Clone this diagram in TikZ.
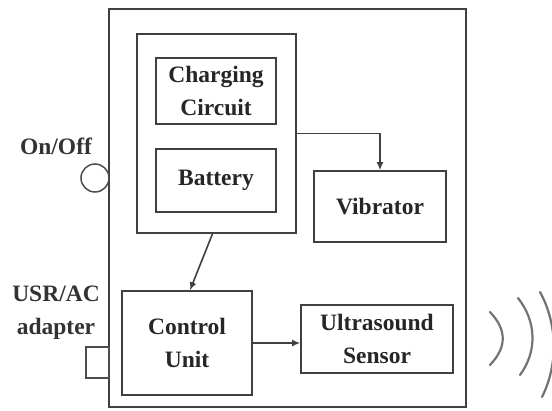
\documentclass[tikz,border=0pt]{standalone}
\usepackage{fontspec}
\setmainfont{Liberation Serif}
\usetikzlibrary{arrows.meta}

\begin{document}
\begin{tikzpicture}[x=1pt, y=-1pt, >={Latex[length=8pt,width=7pt]},
    blk/.style={draw=black!75, line width=1.6pt, inner sep=0pt, align=center,
        font=\bfseries\fontsize{23.5}{33}\selectfont, text=black!85},
    lbl/.style={align=center, font=\bfseries\fontsize{23.5}{33}\selectfont, text=black!80},
    link/.style={->, draw=black!75, line width=1.6pt},
    wave/.style={draw=black!55, line width=2.2pt, line cap=round}]
    \useasboundingbox (0,0) rectangle (552,410);

    \node[blk, minimum width=357pt, minimum height=398pt] (device) at (287.5,208) {};
    \node[blk, minimum width=159pt, minimum height=199pt] (pack) at (216.5,133.5) {};
    \node[blk, minimum width=120pt, minimum height=66pt] (charging) at (216,91) {Charging\\Circuit};
    \node[blk, minimum width=120pt, minimum height=63pt] (battery) at (216,180.5) {Battery};
    \node[blk, minimum width=132pt, minimum height=71pt] (vibrator) at (380,206.5) {Vibrator};
    \node[blk, minimum width=130pt, minimum height=104pt] (control) at (187,343) {Control\\Unit};
    \node[blk, minimum width=152pt, minimum height=68pt] (sensor) at (377,339) {Ultrasound\\Sensor};

    \node[lbl] (onofflabel) at (56,146) {On/Off};
    \node[draw=black!70, line width=1.5pt, circle, minimum size=28pt, inner sep=0pt] (switch) at (95,178) {};
    \node[lbl] (adapterlabel) at (56,313) {USR/AC\\adapter};
    \node[draw=black!70, line width=1.5pt, minimum width=23pt, minimum height=31pt, inner sep=0pt] (port) at (97.5,362.5) {};

    \draw[link] (pack.east) -| (vibrator.north);
    \draw[link] ([xshift=-4pt]pack.south) -- ([xshift=3pt]control.north);
    \draw[link] (control.east) -- (control.east -| sensor.west);

    \draw[wave] (490,312) .. controls (507,330) and (507,347) .. (490,365);
    \draw[wave] (518,298) .. controls (537,322) and (537,352) .. (520,375);
    \draw[wave] (540,292) .. controls (558,325) and (558,365) .. (542,397);
\end{tikzpicture}
\end{document}
